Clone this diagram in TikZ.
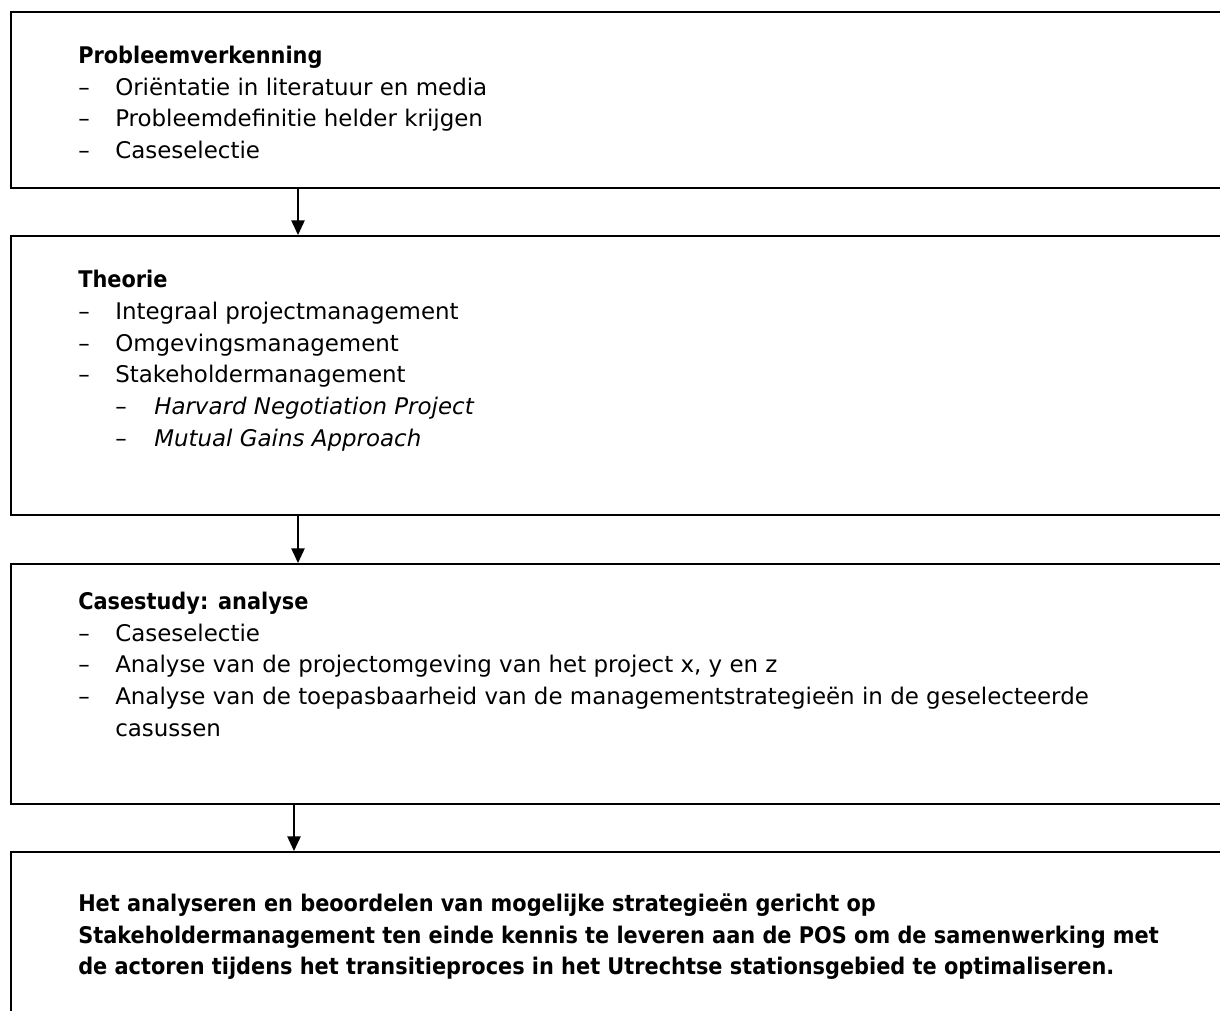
\documentclass[tikz,border=0pt]{standalone}
\usepackage{fontspec}
\setmainfont{DejaVu Sans}[BoldFeatures={FakeStretch=0.91}]
\usetikzlibrary{arrows.meta}

\tikzset{
  box/.style={draw, line width=1.5pt, anchor=north west, inner sep=0pt,
    minimum width=924pt, rectangle},
  ln/.style={anchor=base west, inner sep=0pt, font=\fontsize{17.2}{20}\selectfont},
  hd/.style={ln, font=\fontsize{17.2}{20}\selectfont\bfseries},
  em/.style={ln, font=\fontsize{17.2}{20}\selectfont\itshape},
  arr/.style={line width=1.1pt, -{Triangle[length=11pt, width=10pt]}},
}

\begin{document}
\begin{tikzpicture}[x=0.75pt, y=-0.75pt]
  \useasboundingbox (0,0) rectangle (1220,1010);
  \clip (0,0) rectangle (1220,1010);

  % the four stages, open to the right
  \node[box, minimum height=132pt] (b1) at (10,11) {};
  \node[box, minimum height=209.25pt] (b2) at (10,235) {};
  \node[box, minimum height=180pt] (b3) at (10,563) {};
  \node[box, minimum height=200pt] (b4) at (10,851) {};

  % Probleemverkenning
  \node[hd] (h1) at (78,63) {Probleemverkenning};
  \node[ln] (d11) at (78,95) {–};    \node[ln] (i11) at (115,95) {Oriëntatie in literatuur en media};
  \node[ln] (d12) at (78,126.5) {–}; \node[ln] (i12) at (115,126.5) {Probleemdefinitie helder krijgen};
  \node[ln] (d13) at (78,158) {–};   \node[ln] (i13) at (115,158) {Caseselectie};

  % Theorie
  \node[hd] (h2) at (78,287) {Theorie};
  \node[ln] (d21) at (78,319) {–};  \node[ln] (i21) at (115,319) {Integraal projectmanagement};
  \node[ln] (d22) at (78,351) {–};  \node[ln] (i22) at (115,351) {Omgevingsmanagement};
  \node[ln] (d23) at (78,382) {–};  \node[ln] (i23) at (115,382) {Stakeholdermanagement};
  \node[ln] (d24) at (115,414) {–}; \node[em] (i24) at (154,414) {Harvard Negotiation Project};
  \node[ln] (d25) at (115,446) {–}; \node[em] (i25) at (154,446) {Mutual Gains Approach};

  % Casestudy
  \node[hd] (h3) at (78,609) {Casestudy: analyse};
  \node[ln] (d31) at (78,641) {–}; \node[ln] (i31) at (115,641) {Caseselectie};
  \node[ln] (d32) at (78,672) {–}; \node[ln] (i32) at (115,672) {Analyse van de projectomgeving van het project x, y en z};
  \node[ln] (d33) at (78,704) {–}; \node[ln] (i33) at (115,704) {Analyse van de toepasbaarheid van de managementstrategieën in de geselecteerde};
  \node[ln] (i34) at (115,736) {casussen};

  % Doelstelling
  \node[hd] (g1) at (78,911) {Het analyseren en beoordelen van mogelijke strategieën gericht op};
  \node[hd] (g2) at (78,943) {Stakeholdermanagement ten einde kennis te leveren aan de POS om de samenwerking met};
  \node[hd] (g3) at (78,974) {de actoren tijdens het transitieproces in het Utrechtse stationsgebied te optimaliseren.};

  % connectors
  \coordinate (ax) at (298,0);
  \coordinate (axb) at (294,0);
  \draw[arr] (b1.south -| ax) -- (b2.north -| ax);
  \draw[arr] (b2.south -| ax) -- (b3.north -| ax);
  \draw[arr] (b3.south -| axb) -- (b4.north -| axb);
\end{tikzpicture}
\end{document}
